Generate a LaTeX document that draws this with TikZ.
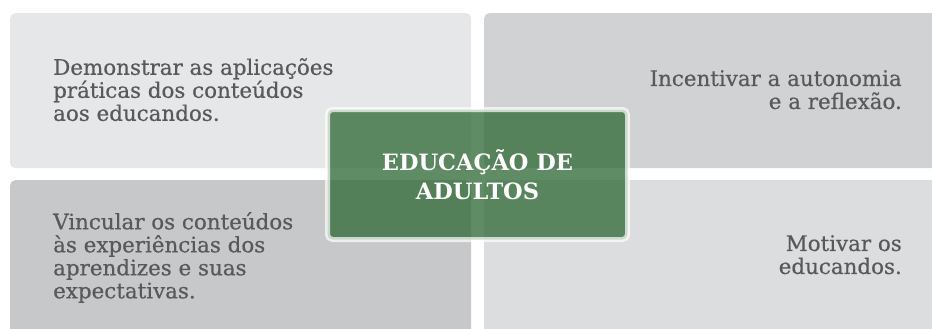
\documentclass[tikz,border=0pt]{standalone}
\usepackage{fontspec}
\setmainfont{DejaVu Serif}
\newfontfamily\panelfont[FakeBold=0.5]{DejaVu Serif}
\usetikzlibrary{positioning}

\definecolor{panelA}{HTML}{E6E7E8}
\definecolor{panelB}{HTML}{D1D2D4}
\definecolor{panelC}{HTML}{C7C8CA}
\definecolor{panelD}{HTML}{DCDDDE}
\definecolor{textgrey}{HTML}{58595B}
\definecolor{coregreen}{HTML}{376F3D}

\begin{document}
\begin{tikzpicture}[x=1pt, y=-1pt,
  panel/.style={rounded corners=5pt, inner sep=0pt, anchor=north west,
    minimum width=461pt, minimum height=155pt},
  txt/.style={text=textgrey, inner sep=0pt, font=\panelfont\fontsize{21.4}{23}\selectfont},
  corebox/.style={rounded corners=5pt, fill=coregreen, fill opacity=0.8,
    draw=white, draw opacity=0.7, line width=5pt, text opacity=1,
    text=white, align=center, minimum width=300pt, minimum height=130pt,
    font=\bfseries\fontsize{22.5}{29}\selectfont}]

\useasboundingbox (0,0) rectangle (932,329);

% Draw the four panels
\foreach \n/\x/\y/\c in {tl/10/13/panelA, tr/484/13/panelB, bl/10/180/panelC, br/484/180/panelD} {
    \node[panel, fill=\c] (\n) at (\x,\y) {};
}

% Texts in the panels
\node[txt, anchor=north west, align=left] (ttl) at ([xshift=43pt, yshift=-45pt]tl.north west)
    {Demonstrar as aplicações\\práticas dos conteúdos\\aos educandos.};
\node[txt, anchor=north east, align=right] (ttr) at ([xshift=418pt, yshift=-57pt]tr.north west)
    {Incentivar a autonomia\\e a reflexão.};
\node[txt, anchor=north west, align=left] (tbl) at ([xshift=43pt, yshift=-32pt]bl.north west)
    {Vincular os conteúdos\\às experiências dos\\aprendizes e suas\\expectativas.};
\node[txt, anchor=north east, align=right] (tbr) at ([xshift=418pt, yshift=-55pt]br.north west)
    {Motivar os\\educandos.};

% Center box
\node[corebox] (core) at (477.5,174.5) {EDUCAÇÃO DE\\ADULTOS};

\end{tikzpicture}
\end{document}
